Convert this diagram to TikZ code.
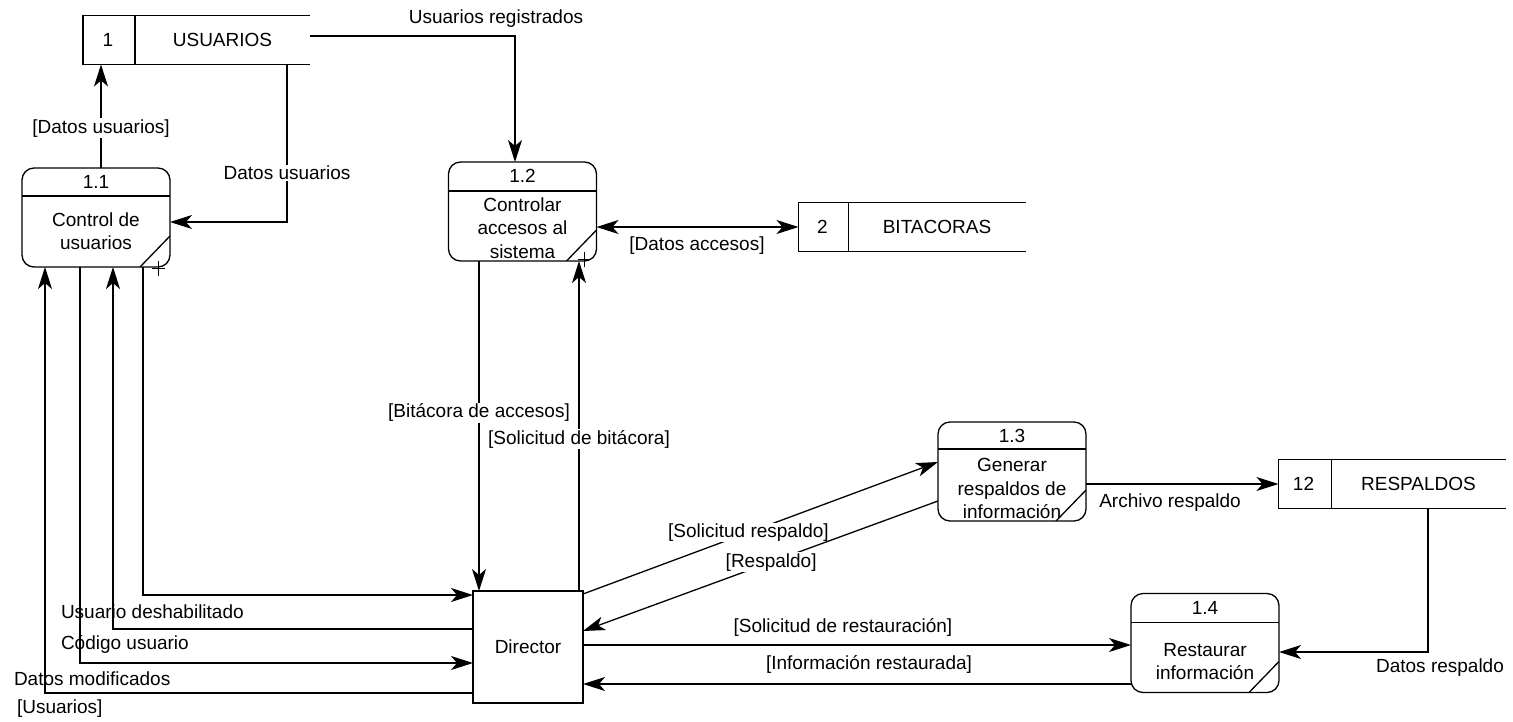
\documentclass[tikz,border=0pt]{standalone}
\usepackage{fontspec}
\setmainfont{Liberation Sans}
\usetikzlibrary{arrows.meta,calc}
\newcommand\dfdfont{\fontsize{19}{23.5}\selectfont}
\tikzset{
  every node/.style={font=\dfdfont, inner sep=1pt, outer sep=0pt},
  lbl/.style={inner sep=1pt},
  wlbl/.style={fill=white, inner sep=1pt},
  proc/.style={draw, line width=1.3pt, rounded corners=12pt, minimum width=148pt, minimum height=99pt, inner sep=0pt},
  store/.style={minimum width=227pt, minimum height=49pt, inner sep=0pt},
  line/.style={line width=1.3pt},
  flow/.style={line width=1.3pt, -{Stealth[length=22pt,width=14pt,inset=6pt]}},
  biflow/.style={line width=1.3pt, {Stealth[length=22pt,width=14pt,inset=6pt]}-{Stealth[length=22pt,width=14pt,inset=6pt]}},
}
\begin{document}
\begin{tikzpicture}[x=1pt,y=-1pt]
\useasboundingbox (0,0) rectangle (1513,721);

% ---------- processes ----------
\node[proc] (p11) at (96,217.5) {};
\node[proc] (p12) at (522.5,211.5) {};
\node[proc] (p13) at (1012,471.5) {};
\node[proc] (p14) at (1205,643) {};
\foreach \p/\h in {p11/28, p12/29, p13/27, p14/29}{
  \draw[line] ([yshift=-\h pt]\p.north west) -- ([yshift=-\h pt]\p.north east);
  \draw[line] ([yshift=31pt]\p.south east) -- ([xshift=-30pt]\p.south east);
}
% plus marks
\draw[line width=0.9pt] ([xshift=-12pt,yshift=-1pt]p11.south east) ++(-6.5,0) -- ++(13,0) ++(-6.5,-7.5) -- ++(0,15);
\draw[line width=0.9pt] ([xshift=-12pt,yshift=2pt]p12.south east) ++(-6.5,0) -- ++(13,0) ++(-6.5,-7.5) -- ++(0,15);

\node (p11n) at ([yshift=-14pt]p11.north) {1.1};
\node (p12n) at ([yshift=-14pt]p12.north) {1.2};
\node (p13n) at ([yshift=-14pt]p13.north) {1.3};
\node (p14n) at ([yshift=-14pt]p14.north) {1.4};
\node[align=center] (p11b) at (96,231) {Control de\\usuarios};
\node[align=center] (p12b) at (522.5,228) {Controlar\\accesos al\\sistema};
\node[align=center] (p13b) at (1012,488.5) {Generar\\respaldos de\\información};
\node[align=center] (p14b) at (1205,661.5) {Restaurar\\información};

% ---------- stores ----------
\node[store] (s1) at (196.5,40) {};
\node[store] (s2) at (912,227) {};
\node[store] (s12) at (1392,484) {};
\foreach \s/\d in {s1/52, s2/50, s12/53}{
  \draw[line] (\s.north east) -- (\s.north west) -- (\s.south west) -- (\s.south east);
  \draw[line] ([xshift=\d pt]\s.north west) -- ([xshift=\d pt]\s.south west);
}
\node (s1n) at ([xshift=25pt]s1.west) {1};
\node (s1t) at ($([xshift=52pt]s1.west)!0.5!(s1.east)$) {USUARIOS};
\node (s2n) at ([xshift=24pt]s2.west) {2};
\node (s2t) at ($([xshift=50pt]s2.west)!0.5!(s2.east)$) {BITACORAS};
\node (s12n) at ([xshift=25pt]s12.west) {12};
\node (s12t) at ($([xshift=53pt]s12.west)!0.5!(s12.east)$) {RESPALDOS};

% ---------- director ----------
\node[draw, line width=1.3pt, minimum width=110pt, minimum height=112pt] (dir) at (528,647) {Director};

% ---------- flows ----------
\draw[flow] ([yshift=4pt]s1.east) -| ([xshift=-7.5pt]p12.north);
\node[lbl] (lUR) at (496,19) {Usuarios registrados};

\draw[flow] ([xshift=5pt]p11.north) -- ([xshift=5pt]p11.north |- s1.south)
  node[wlbl, pos=0.385] (lDU1) {[Datos usuarios]};

\draw[flow] ([xshift=90.5pt]s1.south) |- ([yshift=-4.5pt]p11.east)
  node[wlbl, pos=0.345] (lDU2) {Datos usuarios};

\draw[biflow] ([yshift=-15.5pt]p12.east) -- (s2.west);
\node[lbl] (lDA) at (697,246) {[Datos accesos]};

\draw[flow] ([xshift=-43.5pt]p12.south) -- ([xshift=-43.5pt]p12.south |- dir.north)
  node[wlbl, pos=0.46] (lBA) {[Bitácora de accesos]};
\draw[flow] ([xshift=56.5pt]p12.south |- dir.north) -- ([xshift=56.5pt]p12.south)
  node[wlbl, pos=0.46] (lSB) {[Solicitud de bitácora]};

\draw[flow] ([xshift=47pt]p11.south) |- ([yshift=52pt]dir.west);
\draw[flow] ([yshift=18pt]dir.west) -| ([xshift=17pt]p11.south);
\draw[flow] ([xshift=-16pt]p11.south) |- ([yshift=-16pt]dir.west);
\draw[flow] ([yshift=-46pt]dir.west) -| ([xshift=-51pt]p11.south);
\node[lbl, anchor=west] (lUD) at (60,612) {Usuario deshabilitado};
\node[lbl, anchor=west] (lCU) at (60,644) {Código usuario};
\node[lbl, anchor=west] (lDM) at (13,679) {Datos modificados};
\node[lbl, anchor=west] (lUs) at (16,709) {[Usuarios]};

\draw[flow] ([yshift=53pt]dir.east) -- ([yshift=9.5pt]p13.west)
  node[wlbl, pos=0.466] (lSR) {[Solicitud respaldo]};
\draw[flow] ([yshift=-29.5pt]p13.west) -- ([yshift=16pt]dir.east)
  node[wlbl, pos=0.47] (lR) {[Respaldo]};

\draw[flow] ([yshift=-12.5pt]p13.east) -- (s12.west);
\node[lbl] (lAR) at (1170,503) {Archivo respaldo};

\draw[flow] ([xshift=36pt]s12.south) |- ([yshift=-9pt]p14.east);
\node[lbl] (lDR) at (1440,668) {Datos respaldo};

\draw[flow] ([yshift=2pt]dir.east) -- ([yshift=2pt]dir.east -| p14.west);
\node[lbl] (lSRe) at (843,627) {[Solicitud de restauración]};
\draw[flow] ([yshift=-41pt]p14.west) -- ([yshift=-41pt]p14.west -| dir.east);
\node[lbl] (lIR) at (869,664) {[Información restaurada]};
\end{tikzpicture}
\end{document}
